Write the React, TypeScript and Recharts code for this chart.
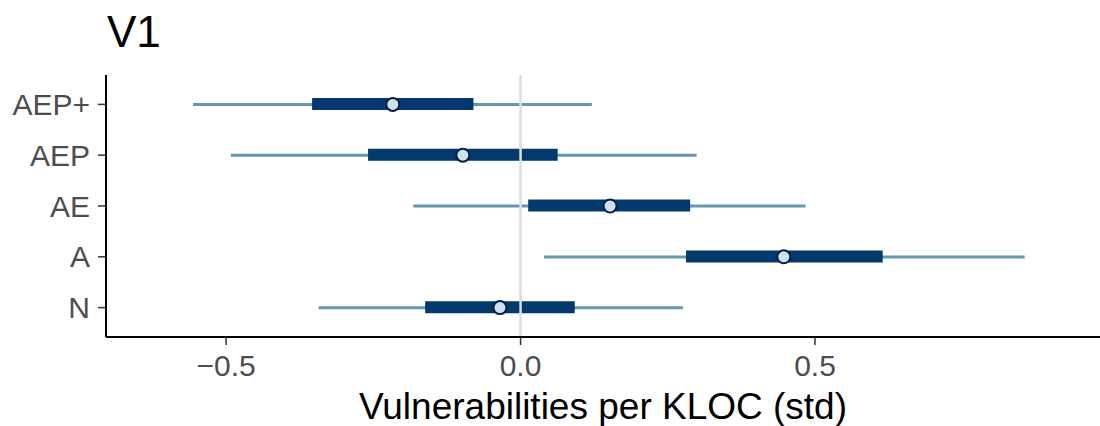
import {
  ComposedChart,
  Bar,
  Line,
  XAxis,
  YAxis,
  ReferenceLine,
} from "recharts";

const categories = ["AEP+", "AEP", "AE", "A", "N"];
const outerLow = [-0.556, -0.492, -0.182, 0.04, -0.343];
const outerHigh = [0.121, 0.299, 0.484, 0.856, 0.276];
const innerLow = [-0.354, -0.259, 0.013, 0.281, -0.162];
const innerHigh = [-0.08, 0.063, 0.288, 0.615, 0.092];
const medians = [-0.217, -0.098, 0.152, 0.447, -0.035];
const xTicks = [-0.5, 0, 0.5];

const data = categories.map((name, i) => ({
  name,
  outer: [outerLow[i], outerHigh[i]],
  inner: [innerLow[i], innerHigh[i]],
  mid: medians[i],
}));

const FONT = "'Liberation Sans', Arial, Helvetica, sans-serif";

const fmt = (v: number) => v.toFixed(1).replace("-", "\u2212");

export default function App() {
  return (
    <div style={{ position: "absolute", left: 0, top: 0 }}>
      <ComposedChart
        width={1100}
        height={426}
        data={data}
        layout="vertical"
        margin={{ top: 75, right: 0, bottom: 0, left: 0 }}
        style={{ fontFamily: FONT }}
      >
        <text x={107} y={47} fontSize={44} fill="#000" fontFamily={FONT}>
          V1
        </text>
        <XAxis
          type="number"
          domain={[-0.704, 0.984]}
          ticks={xTicks}
          allowDataOverflow
          tickFormatter={fmt}
          height={89}
          axisLine={{ stroke: "#000", strokeWidth: 2 }}
          tickLine={{ stroke: "#333", strokeWidth: 1.5 }}
          tickSize={8}
          tickMargin={10}
          tick={{ fontSize: 30, fill: "#4d4d4d", fontFamily: FONT }}
          label={{
            value: "Vulnerabilities per KLOC (std)",
            position: "insideBottom",
            offset: 7,
            fontSize: 37,
            fill: "#000",
            fontFamily: FONT,
          }}
        />
        <YAxis
          yAxisId="inner"
          type="category"
          dataKey="name"
          hide
          width={0}
          padding={{ top: 4, bottom: 4 }}
        />
        <YAxis
          yAxisId="main"
          type="category"
          dataKey="name"
          width={106}
          padding={{ top: 4, bottom: 4 }}
          axisLine={{ stroke: "#000", strokeWidth: 2 }}
          tickLine={{ stroke: "#333", strokeWidth: 1.5 }}
          tickSize={8}
          tickMargin={8}
          tick={{ fontSize: 30, fill: "#4d4d4d", fontFamily: FONT }}
        />
        <ReferenceLine
          yAxisId="main"
          x={0}
          stroke="#dedede"
          strokeWidth={2.5}
        />
        <Bar
          yAxisId="main"
          dataKey="outer"
          fill="#6497b1"
          barSize={3}
          isAnimationActive={false}
        />
        <Bar
          yAxisId="inner"
          dataKey="inner"
          fill="#03396c"
          barSize={12}
          isAnimationActive={false}
        />
        <Line
          yAxisId="main"
          dataKey="mid"
          stroke="none"
          strokeWidth={0}
          dot={{ r: 6.5, fill: "#d1e1ec", stroke: "#011f4b", strokeWidth: 2 }}
          activeDot={false}
          isAnimationActive={false}
        />
      </ComposedChart>
    </div>
  );
}
